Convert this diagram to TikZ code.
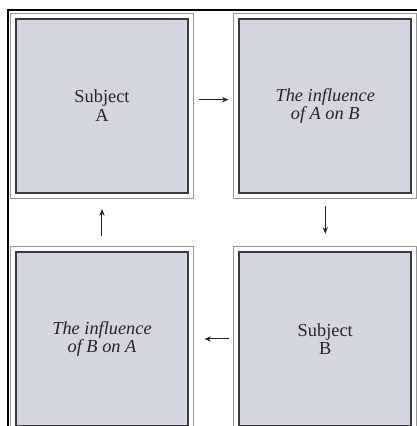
\documentclass[tikz,border=0pt]{standalone}
\usepackage{fontspec}
\setmainfont{Liberation Serif}
\usetikzlibrary{positioning,arrows.meta}
\definecolor{boxfill}{RGB}{211,213,224}
\definecolor{boxline}{RGB}{58,58,64}
\definecolor{frameline}{RGB}{150,150,150}
\tikzset{
  panel/.style={draw=boxline, line width=1.3pt, fill=boxfill,
    minimum width=3.63cm, minimum height=3.67cm, align=center,
    font=\fontsize{11}{11}\selectfont, text=black!85},
  note/.style={panel, font=\fontsize{11}{11}\selectfont\itshape},
  outline/.style={draw=frameline, line width=0.5pt},
  flow/.style={-{Stealth[length=4pt,width=3.2pt]}, line width=0.6pt, black!85}
}
\begin{document}
\begin{tikzpicture}
    \useasboundingbox (0,0) rectangle (8.77,8.98);
    % page frame
    \draw[line width=1pt] (0.17,-0.2) -- (0.17,8.77) -- (9,8.77);
    % the four panels
    \node[panel] (subA) at (2.15,6.75) {Subject\\A};
    \node[note, right=1.03cm of subA] (infAB) {The influence\\of A on B};
    \node[panel, below=1.2cm of infAB] (subB) {Subject\\B};
    \node[note, below=1.2cm of subA] (infBA) {The influence\\of B on A};
    \foreach \n in {subA,infAB,subB,infBA}
        \draw[outline] ([shift={(-0.09,0.09)}]\n.north west) rectangle ([shift={(0.09,-0.09)}]\n.south east);
    % arrows round the cycle
    \draw[flow, shorten <=0.2cm, shorten >=0.2cm] ([yshift=0.13cm]subA.east) -- ([yshift=0.13cm]infAB.west);
    \draw[flow, shorten <=0.25cm, shorten >=0.36cm] (infAB.south) -- (subB.north);
    \draw[flow, shorten <=0.19cm, shorten >=0.32cm] (subB.west) -- (infBA.east);
    \draw[flow, shorten <=0.32cm, shorten >=0.32cm] (infBA.north) -- (subA.south);
\end{tikzpicture}
\end{document}
